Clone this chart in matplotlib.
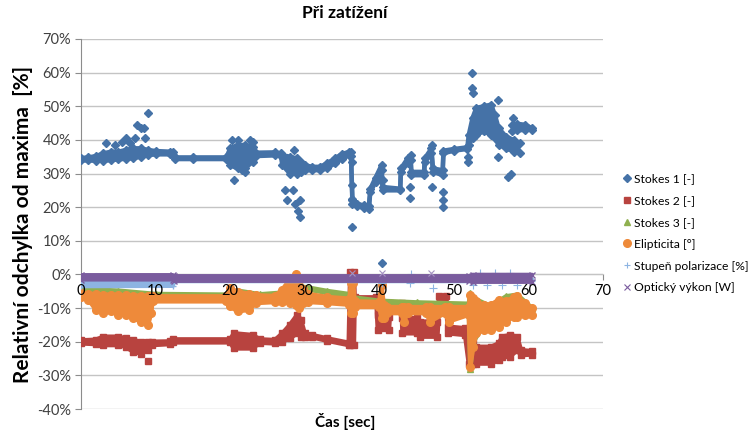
import numpy as np
import matplotlib
matplotlib.use("Agg")
import matplotlib.pyplot as plt
from matplotlib.lines import Line2D
from matplotlib.ticker import FuncFormatter

plt.rcParams['font.family'] = ['Lato', 'DejaVu Sans']

# osa x / y
x_ticks = [0, 10, 20, 30, 40, 50, 60, 70]
y_ticks = [-40, -30, -20, -10, 0, 10, 20, 30, 40, 50, 60, 70]

# Stokes 1 - hlavni pas (dolni / horni okraj v %)
s1_t = [0, 1, 2, 3, 4, 5, 6, 7, 8, 9, 10, 12, 12.3, 12.6, 15, 19.5, 20, 21, 22, 23,
        23.5, 26, 26.8, 27, 28, 29, 29.5, 30, 31, 32, 33, 34, 35, 36, 36.2, 36.4,
        37, 38, 38.6, 38.8, 39.5, 40.3, 40.45, 42.8, 42.9, 43.8, 44.2, 44.3, 46,
        46.1, 47, 47.2, 48.5, 48.6, 50, 51.8, 52, 52.5, 53, 54, 55, 55.5, 56, 57,
        58, 58.9]
s1_lo = [33.9, 33.9, 33.8, 33.8, 34.0, 34.2, 34.4, 34.6, 35.0, 35.5, 35.7, 35.7,
         35.5, 34.3, 34.3, 34.3, 32.5, 31.5, 31.5, 33.5, 35.2, 35.4, 35.2, 32.5,
         30.0, 30.0, 30.5, 31.0, 31.0, 31.0, 31.5, 33.0, 34.3, 35.5, 35.2, 20.8,
         20.3, 19.8, 19.5, 24.5, 27.5, 31.0, 25.0, 25.0, 30.5, 33.0, 34.0, 29.5,
         29.5, 33.5, 36.0, 30.5, 29.5, 36.0, 36.8, 37.3, 38.5, 40.5, 41.5, 42.5,
         41.5, 40.5, 38.5, 37.5, 36.5, 36.0]
s1_hi = [34.6, 34.8, 35.2, 36.0, 36.5, 36.5, 37.0, 37.5, 37.5, 37.0, 36.7, 36.5,
         36.5, 34.8, 34.8, 34.8, 37.5, 38.5, 38.5, 38.0, 36.2, 36.3, 36.0, 35.5,
         35.0, 34.5, 33.5, 32.5, 32.0, 32.0, 33.0, 34.5, 35.8, 36.5, 36.3, 22.0,
         21.0, 20.5, 20.3, 25.5, 28.8, 32.5, 26.0, 25.5, 31.5, 34.5, 35.5, 30.5,
         30.5, 34.5, 37.5, 31.5, 31.0, 36.8, 37.3, 37.8, 41.5, 46.5, 49.5, 50.0,
         50.5, 47.5, 43.5, 41.0, 40.0, 39.0]
s1b_t = [57.8, 58.5, 59.5, 60.5]
s1b_lo = [42.5, 42.8, 43.0, 43.0]
s1b_hi = [44.5, 44.8, 44.5, 43.5]
s1_out_t = [3.4, 4.5, 5.5, 6.0, 6.6, 7.2, 7.5, 8.0, 8.5, 8.6, 9.0, 20.2, 20.5, 21.0,
            21.6, 22.0, 22.6, 23.0, 27.4, 27.6, 28.4, 28.7, 29.1, 29.4, 29.4, 28.6,
            36.3, 36.3, 36.3, 36.3, 40.4, 40.5, 44.1, 44.1, 47.1, 47.1, 48.5, 48.5,
            48.5, 51.9, 51.9, 52.4, 52.4, 52.5, 55.9, 55.9, 57.9, 57.2, 57.6]
s1_out_v = [39, 38.5, 39.5, 40.5, 39, 40.5, 44.5, 43.5, 43.5, 40.5, 48, 40, 28, 40,
            31, 30.5, 40, 39.5, 25, 22, 25, 21, 19, 17, 22, 37, 33.5, 26.5, 22.5,
            14, 3.5, 28, 26, 22.7, 38.5, 26, 24.5, 22, 20, 35, 33.5, 60, 55.5, 54,
            35, 52, 46.5, 29, 30]

# Stokes 2
s2_t = [0, 2, 3, 5, 6, 7, 8, 9, 9.5, 12, 12.3, 20, 20.5, 23, 24, 26, 27, 28, 29,
        29.5, 30, 31, 33, 35.9, 36.1, 36.6, 36.7, 39.6, 39.8, 41.3, 41.5, 43.0,
        43.1, 45.0, 45.5, 47.8, 48.0, 49.0, 49.2, 51.5, 52.0, 52.5, 53, 55, 56,
        56.5, 57.5, 58.5, 59, 60.5]
s2_lo = [-20.5, -20.7, -21.0, -21.0, -21.5, -23.0, -23.5, -22.5, -21.0, -20.7,
         -20.2, -20.2, -22.0, -22.0, -20.3, -20.5, -20.0, -19.0, -17.5, -18.5,
         -18.7, -18.7, -19.7, -21.0, -21.0, -21.0, -7.8, -7.8, -16.5, -16.5,
         -9.5, -9.5, -17.5, -17.5, -18.5, -18.5, -9.5, -9.5, -17.5, -18.0,
         -26.5, -26.5, -26.5, -26.5, -25.5, -24.5, -24.5, -22.5, -24.0, -23.8]
s2_hi = [-19.6, -19.4, -18.5, -18.5, -19.0, -19.5, -20.0, -20.0, -20.0, -19.9,
         -19.3, -19.3, -17.5, -18.0, -19.3, -19.5, -17.5, -15.0, -12.0, -13.5,
         -17.5, -18.0, -19.0, -20.3, 0.8, 0.8, -6.8, -6.8, -12.0, -12.5,
         -8.5, -8.5, -13.0, -13.0, -14.0, -14.0, -6.5, -6.5, -15.5, -16.0,
         -16.0, -19.5, -21.5, -21.5, -20.5, -18.5, -18.0, -18.5, -22.5, -22.8]
s2_out_t = [9.0]
s2_out_v = [-25.6]

# Stokes 3
s3_t = [0, 5, 10, 20, 21, 24, 27, 29, 30.5, 33, 36.2, 36.5, 40, 45, 52, 52.2,
        52.6, 55, 57, 58.5, 60.5]
s3_lo = [-5.0, -5.5, -6.3, -6.5, -6.0, -6.5, -6.0, -4.5, -4.5, -5.5, -6.5, -8.0,
         -9.0, -9.0, -9.5, -28.0, -20.0, -12.0, -11.0, -11.0, -11.0]
s3_hi = [-4.3, -4.8, -5.8, -6.0, -4.8, -5.9, -5.4, -3.4, -3.9, -4.9, -5.9, -6.8,
         -7.8, -8.3, -8.7, -5.5, -7.0, -9.5, -6.5, -6.0, -10.0]

# Elipticita
el_t = [0, 1, 2, 3, 4, 5, 6, 7, 8, 9, 9.4, 9.6, 19.5, 20, 21, 22.5, 23.5, 26, 27,
        28, 28.8, 29.2, 29.8, 30.5, 33, 36, 36.2, 36.5, 36.7, 40, 40.3, 40.6, 41,
        43, 43.3, 43.8, 46.3, 46.8, 48.8, 49.3, 52, 52.2, 52.6, 53, 54, 55, 56,
        57, 58, 58.5, 59.5, 60.5]
el_lo = [-6.8, -7.5, -10.5, -11.5, -11.0, -12.0, -12.0, -13.0, -14.0, -15.0,
         -11.5, -8.0, -8.0, -9.5, -11.0, -10.5, -8.5, -8.2, -8.2, -8.5,
         -9.0, -10.0, -8.5, -8.2, -8.5, -9.0, -11.5, -11.5, -9.7, -9.7,
         -13.0, -13.0, -11.5, -11.5, -14.0, -11.5, -11.5, -14.0, -11.5, -14.0,
         -12.0, -27.5, -21.5, -17.5, -16.5, -16.5, -15.5, -14.0, -12.5, -12.5,
         -12.0, -12.0]
el_hi = [-5.5, -5.8, -5.8, -6.0, -6.0, -6.2, -6.2, -6.3, -6.3, -6.5,
         -6.5, -6.5, -6.5, -4.0, -5.2, -5.7, -6.2, -6.4, -4.5, -1.5,
         0.0, -1.5, -4.2, -5.8, -6.7, -7.2, -2.5, -2.5, -8.0, -8.2,
         -3.0, -9.2, -9.7, -9.7, -9.7, -9.7, -9.7, -9.7, -9.7, -9.7,
         -9.7, -6.0, -7.0, -8.0, -9.0, -9.0, -7.5, -8.0, -6.8, -6.3,
         -8.5, -10.0]

# Stupen polarizace
sp_t = [0, 12.3, 12.5, 60.5]
sp_lo = [-3.5, -3.4, -2.0, -2.0]
sp_hi = [-2.5, -2.5, -1.5, -1.5]
sp_out_t = [40.4, 44.1, 44.3, 47.2, 47.0, 52.5, 53.5, 54.5, 55.5, 56.5, 57.5, 58.5]
sp_out_v = [-2.6, -2.6, 0.0, -4.0, -1.0, -3.2, 0.3, -3.0, 0.4, -3.2, 0.3, -3.0]

# Opticky vykon
ov_t = [0, 12.3, 12.5, 52, 52.5, 60.5]
ov_lo = [-1.5, -1.5, -1.9, -1.9, -2.2, -2.2]
ov_hi = [-0.2, -0.2, -0.5, -0.5, -0.1, -0.1]
ov_out_t = [40.4, 47.0, 36.3]
ov_out_v = [0.5, 0.5, 0.3]

labels = ['Stokes 1 [-]', 'Stokes 2 [-]', 'Stokes 3 [-]', 'Elipticita [°]',
          'Stupeň polarizace [%]', 'Optický výkon [W]']
colors = ['#4572A7', '#B8433F', '#8FB04F', '#EE8A3A', '#8DB4E2', '#7A5C9E']
markers = ['D', 's', '^', 'o', '+', 'x']
msizes = [4.5, 5, 5, 5.5, 5, 5]

fig = plt.figure(figsize=(7.49, 4.36), dpi=100)
ax = fig.add_axes([81 / 749, 1 - 409 / 436, 522 / 749, 370 / 436])


def band(t, lo, hi, c, m, ms, z, lw=3.2):
    ax.fill_between(t, lo, hi, color=c, lw=0, zorder=z)
    for edge in (lo, hi):
        ax.plot(t, edge, color=c, lw=lw, solid_capstyle='round',
                solid_joinstyle='round', zorder=z)
        ax.plot(t, edge, ls='none', marker=m, ms=ms, color=c, mew=1, zorder=z)


band(s1_t, s1_lo, s1_hi, colors[0], 'D', 4.5, 3)
band(s1b_t, s1b_lo, s1b_hi, colors[0], 'D', 4.5, 3)
ax.plot(s1_out_t, s1_out_v, ls='none', marker='D', ms=4.5, color=colors[0], zorder=3)
band(s2_t, s2_lo, s2_hi, colors[1], 's', 5, 4)
ax.plot(s2_out_t, s2_out_v, ls='none', marker='s', ms=5, color=colors[1], zorder=4)
band(s3_t, s3_lo, s3_hi, colors[2], '^', 5, 5)
band(el_t, el_lo, el_hi, colors[3], 'o', 5.5, 6)
band(sp_t, sp_lo, sp_hi, colors[4], '+', 5, 7, lw=3)
ax.plot(sp_out_t, sp_out_v, ls='none', marker='+', ms=6, mew=0.8, color=colors[4], zorder=7)
band(ov_t, ov_lo, ov_hi, colors[5], 'x', 5, 8, lw=3)
ax.plot(ov_out_t, ov_out_v, ls='none', marker='x', ms=5, mew=0.8, color='#A593C2', zorder=8)

ax.set_xlim(0, 70)
ax.set_ylim(-40, 70)
ax.set_yticks(y_ticks)
ax.yaxis.set_major_formatter(FuncFormatter(lambda v, p: f'{v:.0f}%'))
ax.grid(axis='y', color='#c4c4c4', lw=1)
ax.set_axisbelow(True)
for s in ['top', 'right']:
    ax.spines[s].set_visible(False)
ax.spines['left'].set_color('#8c8c8c')
ax.spines['bottom'].set_position(('data', 0))
ax.spines['bottom'].set_color('#c4c4c4')
ax.set_xticks(x_ticks)
ax.tick_params(axis='x', length=4, color='#8c8c8c', labelbottom=False)
ax.tick_params(axis='y', length=4, color='#8c8c8c', labelsize=10.5, labelcolor='#404040', pad=3)
for xt in x_ticks:
    ax.text(xt, -2.8, str(xt), ha='center', va='top', fontsize=10.5, color='black', zorder=20)

ax.set_ylabel('Relativní odchylka od maxima  [%]', fontsize=15, fontweight='bold', labelpad=3)
fig.text(345 / 749, 1 - 421 / 436, 'Čas [sec]', ha='center', va='center',
         fontsize=11, fontweight='bold')
fig.text(345 / 749, 1 - 13 / 436, 'Při zatížení', ha='center', va='center',
         fontsize=12.5, fontweight='bold')

handles = []
for c, m, ms in zip(colors, markers, msizes):
    handles.append(Line2D([], [], ls='none', marker=m, ms=ms, color=c,
                          mew=0.8 if m in '+x' else 1))
leg = fig.legend(handles, labels, loc='upper left', bbox_to_anchor=(622 / 749, 1 - 173 / 436),
                 frameon=False, fontsize=8.7, handlelength=0.8, handletextpad=0.2,
                 labelspacing=0.9, borderpad=0, borderaxespad=0)

fig.savefig('out.png', dpi=100)
